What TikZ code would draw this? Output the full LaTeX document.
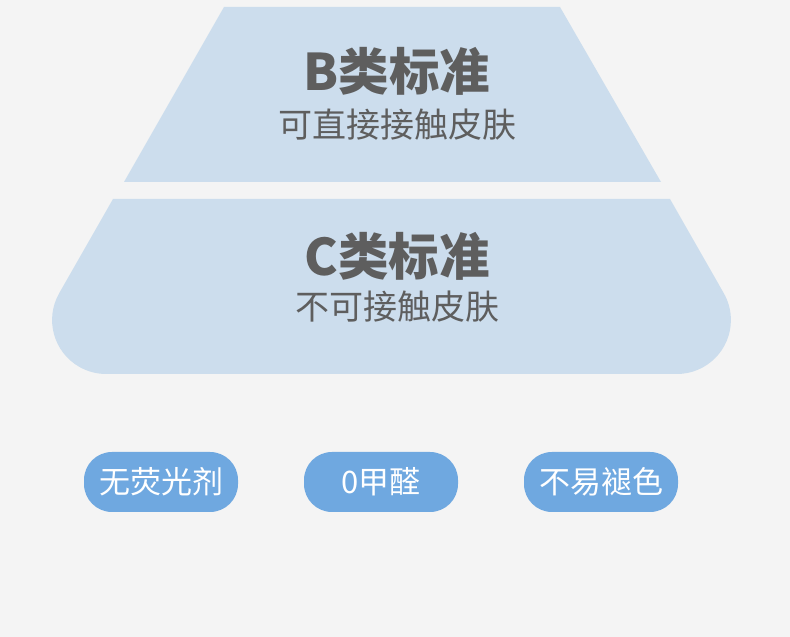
\documentclass[tikz,border=0pt]{standalone}
\usepackage{fontspec}
\setmainfont{Noto Sans CJK SC}
\definecolor{bgc}{HTML}{F4F4F4}
\definecolor{tier}{HTML}{CCDDED}
\definecolor{txt}{HTML}{5E5E5E}
\definecolor{pillc}{HTML}{6FA8E0}
\tikzset{
  title/.style={text=txt, font=\fontsize{50.5}{51}\selectfont\bfseries, inner sep=0pt},
  sub/.style={text=txt, font=\fontsize{34}{34}\selectfont, inner sep=0pt},
  pill/.style={fill=pillc, rounded corners=28pt},
  pilltext/.style={text=white, font=\fontsize{31}{31}\selectfont, inner sep=0pt}
}
\begin{document}
\begin{tikzpicture}[x=1pt,y=1pt]
\fill[bgc] (0,0) rectangle (790,637);
\useasboundingbox (0,0) rectangle (790,637);
% tier B
\fill[tier] (224,630) -- (560,630) -- (661,455) -- (124,455) -- cycle;
% tier C
\fill[tier] (113,438) -- (59.2,343.8) arc[start angle=150.26,end angle=270,radius=54pt]
  -- (676.9,263) arc[start angle=-90,end angle=29.74,radius=54pt] -- (670,438) -- cycle;
\node[title] (bt) at (397,566) {B类标准};
\node[sub] (bs) at (397,512) {可直接接触皮肤};
\node[title] (ct) at (397,381) {C类标准};
\node[sub] (cs) at (397,330) {不可接触皮肤};
% pills
\fill[pill] (84,125) rectangle (238,185);
\fill[pill] (304,125) rectangle (458,185);
\fill[pill] (524,125) rectangle (678,185);
\node[pilltext] (p1) at (161,155) {无荧光剂};
\node[pilltext] (p2) at (381,155) {0甲醛};
\node[pilltext] (p3) at (601,155) {不易褪色};
\end{tikzpicture}
\end{document}
